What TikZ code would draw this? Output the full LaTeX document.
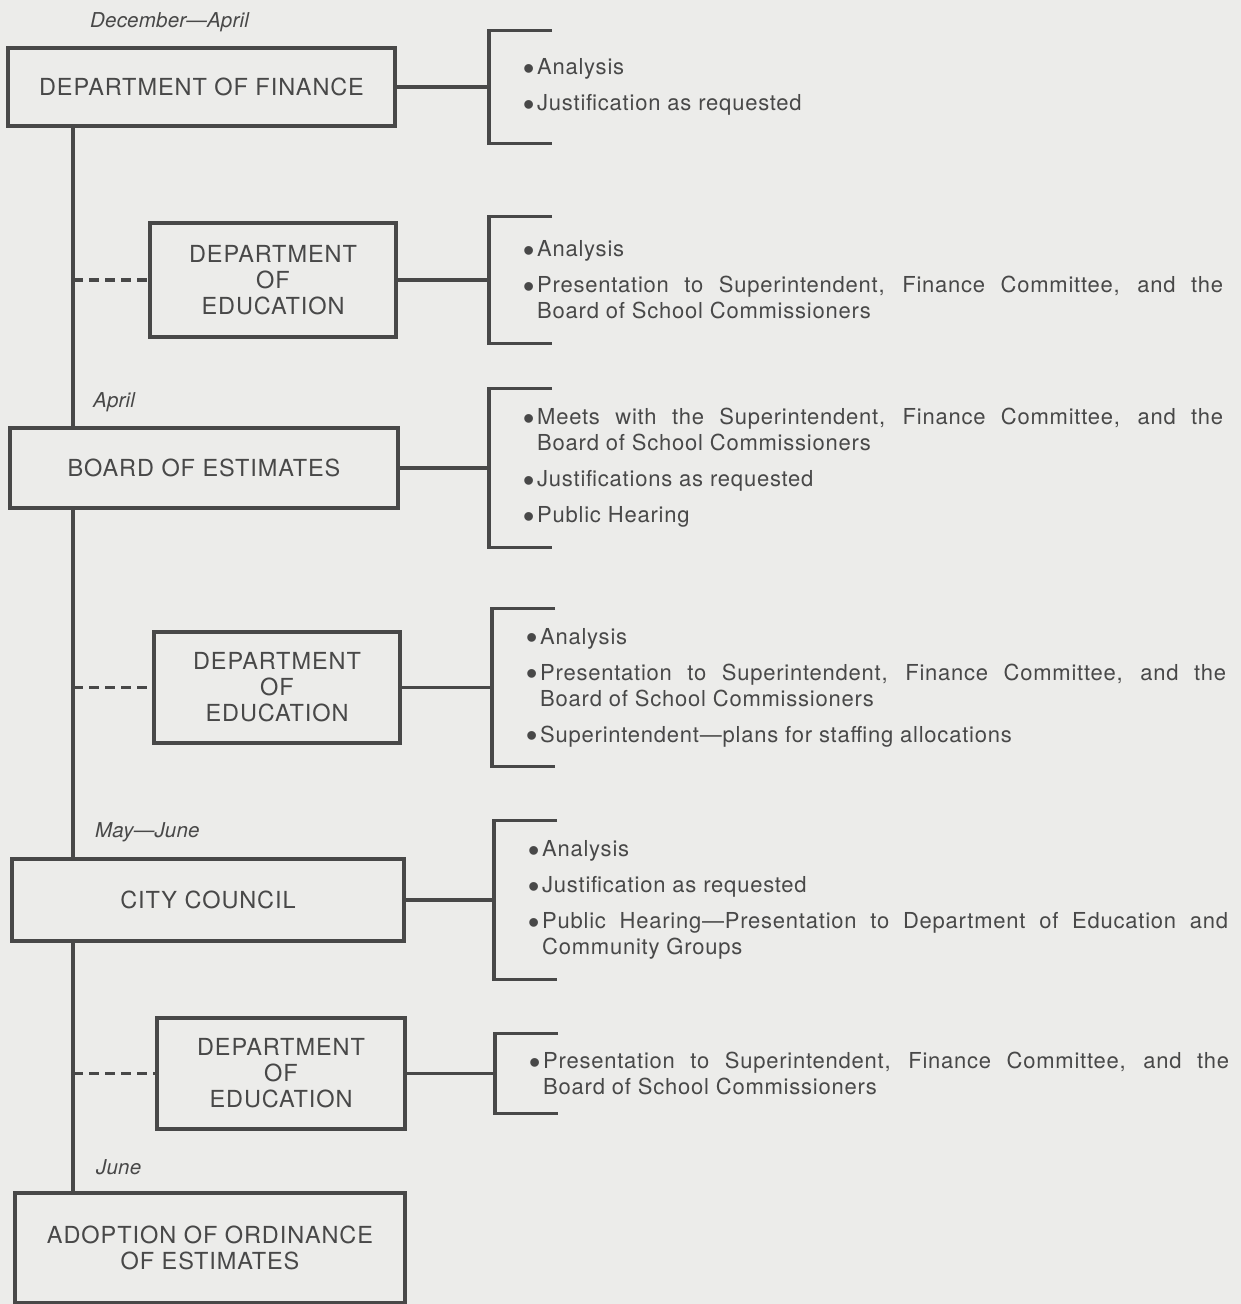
\documentclass[tikz,border=0pt]{standalone}
\usepackage{fontspec}
\usepackage{xcolor}
\usepackage{tikz}
\setmainfont{TeX Gyre Heros}
\newfontfamily\boxfont[LetterSpace=4]{TeX Gyre Heros}
\newfontfamily\notefont[LetterSpace=3.5]{TeX Gyre Heros}
\newfontfamily\datefont[LetterSpace=1]{TeX Gyre Heros}
\newfontfamily\dotfont{Liberation Sans}

\definecolor{ink}{RGB}{72,72,72}
\definecolor{paper}{RGB}{236,236,234}

\newcommand{\bul}{\noindent\llap{\raisebox{-4.5pt}{\dotfont\fontsize{32}{0}\selectfont •}\kern3pt}}
\newcommand{\nxt}{\par\vspace{10pt}\bul}

\begin{document}
\begin{tikzpicture}[x=1pt,y=-1pt,
  stage/.style={draw=ink, line width=3.2pt, text=ink, align=center, inner sep=0pt,
    font=\boxfont\fontsize{23.5}{26}\selectfont},
  notes/.style={text=ink, anchor=west, text width=686pt, inner xsep=48pt, inner ysep=0pt,
    align=justify, minimum height=#1, font=\notefont\fontsize{22}{26}\selectfont,
    execute at begin node={\hyphenpenalty=10000\tolerance=9999}},
  when/.style={text=ink, anchor=west, inner sep=0pt,
    font=\datefont\itshape\fontsize{20.5}{22}\selectfont},
  link/.style={draw=ink, line width=3.2pt},
  dashlink/.style={link, dash pattern=on 10pt off 6pt}]

  \fill[paper] (0,0) rectangle (1241,1304);
  \useasboundingbox (0,0) rectangle (1241,1304);

  \coordinate (spine) at (73,0);

  % stages down the left
  \node[stage, minimum width=387pt, minimum height=78pt] (fin) at (201.5,87) {DEPARTMENT OF FINANCE};
  \node[stage, minimum width=246pt, minimum height=114pt] (doe1) at (273,280) {DEPARTMENT\\OF\\EDUCATION};
  \node[stage, minimum width=388pt, minimum height=80pt] (boe) at (204,468) {BOARD OF ESTIMATES};
  \node[stage, minimum width=246pt, minimum height=111pt] (doe2) at (277,687.5) {DEPARTMENT\\OF\\EDUCATION};
  \node[stage, minimum width=392pt, minimum height=82pt] (cc) at (208,900) {CITY COUNCIL};
  \node[stage, minimum width=248pt, minimum height=111pt] (doe3) at (281,1073.5) {DEPARTMENT\\OF\\EDUCATION};
  \node[stage, minimum width=390pt, minimum height=110pt] (adopt) at (210,1248) {ADOPTION OF ORDINANCE\\OF ESTIMATES};

  % dates
  \node[when] (decapr) at (90,22) {December—April};
  \node[when] (apr) at (93,402) {April};
  \node[when] (mayjun) at (95,832) {May—June};
  \node[when] (jun) at (96,1167) {June};

  % what happens at each stage
  \node[notes=112pt] (finN) at (489,87) {\bul Analysis\nxt Justification as requested};
  \node[notes=126pt] (doe1N) at (489,280) {\bul Analysis\nxt Presentation to Superintendent, Finance Committee, and the\linebreak Board of School Commissioners};
  \node[notes=159pt] (boeN) at (489,468) {\bul Meets with the Superintendent, Finance Committee, and the\linebreak Board of School Commissioners\nxt Justifications as requested\nxt Public Hearing};
  \node[notes=157pt] (doe2N) at (492,687.5) {\bul Analysis\nxt Presentation to Superintendent, Finance Committee, and the\linebreak Board of School Commissioners\nxt Superintendent—plans for staffing allocations};
  \node[notes=158pt] (ccN) at (494,900) {\bul Analysis\nxt Justification as requested\nxt Public Hearing—Presentation to Department of Education and\linebreak Community Groups};
  \node[notes=79pt] (doe3N) at (495,1073.5) {\bul Presentation to Superintendent, Finance Committee, and the\linebreak Board of School Commissioners};

  % spine
  \draw[link] (fin.south -| spine) -- (boe.north -| spine);
  \draw[link] (boe.south -| spine) -- (cc.north -| spine);
  \draw[link] (cc.south -| spine) -- (adopt.north -| spine);
  \foreach \d in {doe1,doe2,doe3}
    \draw[dashlink] (spine |- \d.west) -- (\d.west);

  % brackets
  \foreach \s/\n in {fin/finN,doe1/doe1N,boe/boeN,doe2/doe2N,cc/ccN,doe3/doe3N} {
    \draw[link] (\s.east) -- (\s.east -| \n.west);
    \draw[link] ([xshift=63pt]\n.north west) -- (\n.north west) -- (\n.south west) -- ([xshift=63pt]\n.south west);
  }
\end{tikzpicture}
\end{document}
